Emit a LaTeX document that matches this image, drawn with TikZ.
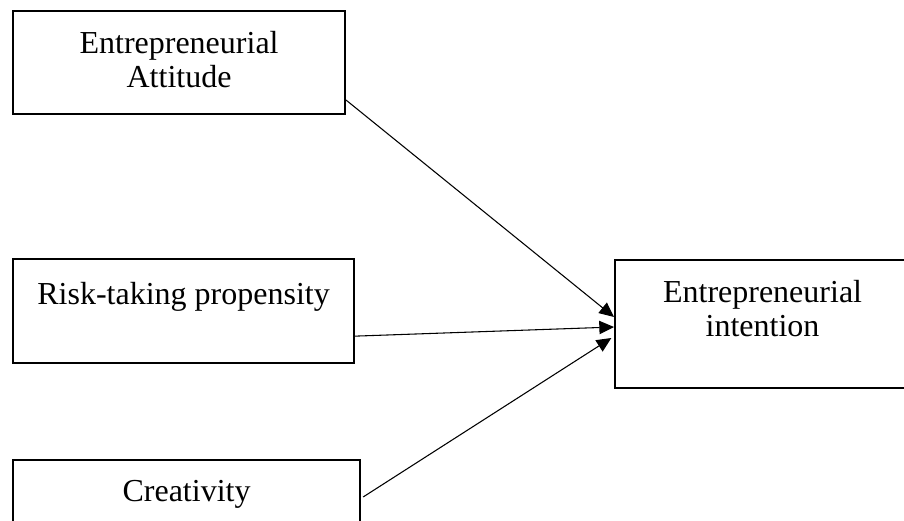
\documentclass[tikz,border=0pt]{standalone}
\usepackage{fontspec}
\setmainfont{Liberation Serif}
\usetikzlibrary{arrows.meta, positioning}

\begin{document}
\begin{tikzpicture}[
  x=0.75pt, y=-0.75pt,
  box/.style={
    draw,
    rectangle,
    line width=1.6pt,
    align=center,
    inner sep=0pt,
    anchor=north west,
    font=\fontsize{24}{25.5}\selectfont
    },
  link/.style={
    -{Triangle[length=11pt,width=10pt]},
    line width=0.8pt
    }
]
\useasboundingbox (0,0) rectangle (904,521);

\node[box, minimum width=249pt, text height=57.5pt, text depth=19.75pt]
  (att) at (12,10) {Entrepreneurial\\Attitude};
\node[box, minimum width=255.75pt, text height=33.75pt, text depth=44.25pt]
  (risk) at (12,258) {Risk-taking propensity};
\node[box, minimum width=260.25pt, text height=30.75pt, text depth=48pt]
  (cre) at (12,459) {Creativity};
\node[box, minimum width=221.25pt, text height=57pt, text depth=39pt]
  (int) at (614,259) {Entrepreneurial\\intention};

\draw[link] ([yshift=11.25pt]att.south east) -- ([yshift=-43.5pt]int.north west);
\draw[link] ([yshift=21pt]risk.south east) -- ([yshift=-51pt]int.north west);
\draw[link] ([xshift=1.5pt,yshift=-28.5pt]cre.north east) -- ([xshift=-2pt,yshift=-59.25pt]int.north west);

\end{tikzpicture}
\end{document}
